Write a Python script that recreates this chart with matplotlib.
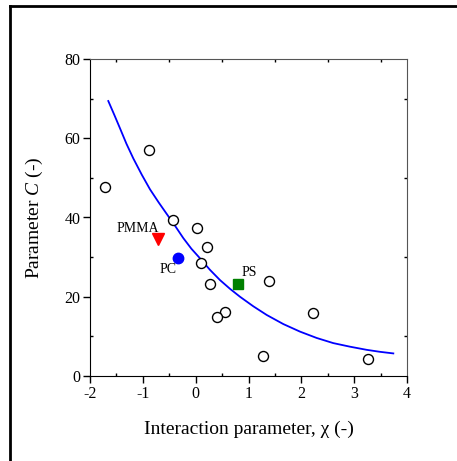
import matplotlib
matplotlib.use("Agg")
import matplotlib.pyplot as plt
from matplotlib.lines import Line2D
from matplotlib.ticker import MultipleLocator

plt.rcParams['font.family'] = ['Liberation Serif', 'DejaVu Serif']
plt.rcParams['mathtext.fontset'] = 'custom'
plt.rcParams['mathtext.it'] = 'Liberation Serif:italic'
plt.rcParams['mathtext.rm'] = 'Liberation Serif'
plt.rcParams['axes.unicode_minus'] = False

# open circles: other polymers
chi = [-1.72, -0.88, -0.42, 0.02, 0.21, 0.11, 0.28, 0.55, 0.41, 1.39, 2.23, 1.27, 3.26]
C = [47.7, 57.0, 39.4, 37.4, 32.5, 28.5, 23.1, 16.2, 14.8, 24.1, 16.0, 5.0, 4.2]

# highlighted polymers
pmma_chi, pmma_C = -0.71, 34.7
pc_chi, pc_C = -0.34, 29.7
ps_chi, ps_C = 0.81, 23.1

# fitted curve
fit_chi = [-1.654, -1.54, -1.432, -1.31, -1.180, -1.02, -0.864, -0.70, -0.548,
           -0.39, -0.234, -0.08, 0.082, 0.27, 0.461, 0.65, 0.839, 1.09, 1.345,
           1.66, 1.975, 2.29, 2.605, 2.92, 3.238, 3.49, 3.741]
fit_C = [69.4, 65.9, 62.5, 58.6, 54.9, 50.8, 47.1, 43.8, 40.9,
         37.9, 34.8, 32.1, 29.7, 26.8, 24.2, 22.0, 20.0, 17.6, 15.4,
         13.1, 11.2, 9.6, 8.3, 7.4, 6.6, 6.1, 5.7]

fig = plt.figure(figsize=(4.57, 4.61), dpi=100)
ax = fig.add_axes([90 / 457, 85 / 461, 317 / 457, 317 / 461])

ax.plot(fit_chi, fit_C, color='#0000ff', lw=1.3, zorder=2)
ax.plot(chi, C, 'o', ms=7.2, mfc='white', mec='black', mew=1.0, ls='none', zorder=3)
ax.plot(pmma_chi, pmma_C, 'v', ms=8, color='#ff0000', zorder=3)
ax.plot(pc_chi, pc_C, 'o', ms=7.5, color='#0000ff', zorder=3)
ax.plot(ps_chi, ps_C, 's', ms=6.8, color='#008000', zorder=3)

ax.annotate('PMMA', (pmma_chi, pmma_C), xytext=(-14.4, 7.2), textcoords='offset points',
            ha='center', va='center', fontsize=10)
ax.annotate('PC', (pc_chi, pc_C), xytext=(-7, -7.7), textcoords='offset points',
            ha='center', va='center', fontsize=10)
ax.annotate('PS', (ps_chi, ps_C), xytext=(8.1, 8.4), textcoords='offset points',
            ha='center', va='center', fontsize=10)

ax.set_xlim(-2, 4)
ax.set_ylim(0, 80)
ax.xaxis.set_major_locator(MultipleLocator(1))
ax.xaxis.set_minor_locator(MultipleLocator(0.5))
ax.yaxis.set_major_locator(MultipleLocator(20))
ax.yaxis.set_minor_locator(MultipleLocator(10))

ax.tick_params(which='major', direction='out', length=5, width=1, labelsize=11.5,
               pad=2, top=False, right=False)
ax.tick_params(which='minor', direction='in', length=2.5, width=1,
               top=True, right=True)
for s in ['top', 'right']:
    ax.spines[s].set_color('#555555')

ax.set_xlabel('Interaction parameter, χ (-)', fontsize=14, labelpad=14)
ax.set_ylabel('Parameter $C$ (-)', fontsize=14, labelpad=14)

# partial outer frame
fig.add_artist(Line2D([10 / 457, 10 / 457], [0, 1 - 6 / 461], transform=fig.transFigure,
                      color='black', lw=2))
fig.add_artist(Line2D([10 / 457, 1], [1 - 6 / 461, 1 - 6 / 461], transform=fig.transFigure,
                      color='black', lw=2))

fig.savefig('out.png', dpi=100)
